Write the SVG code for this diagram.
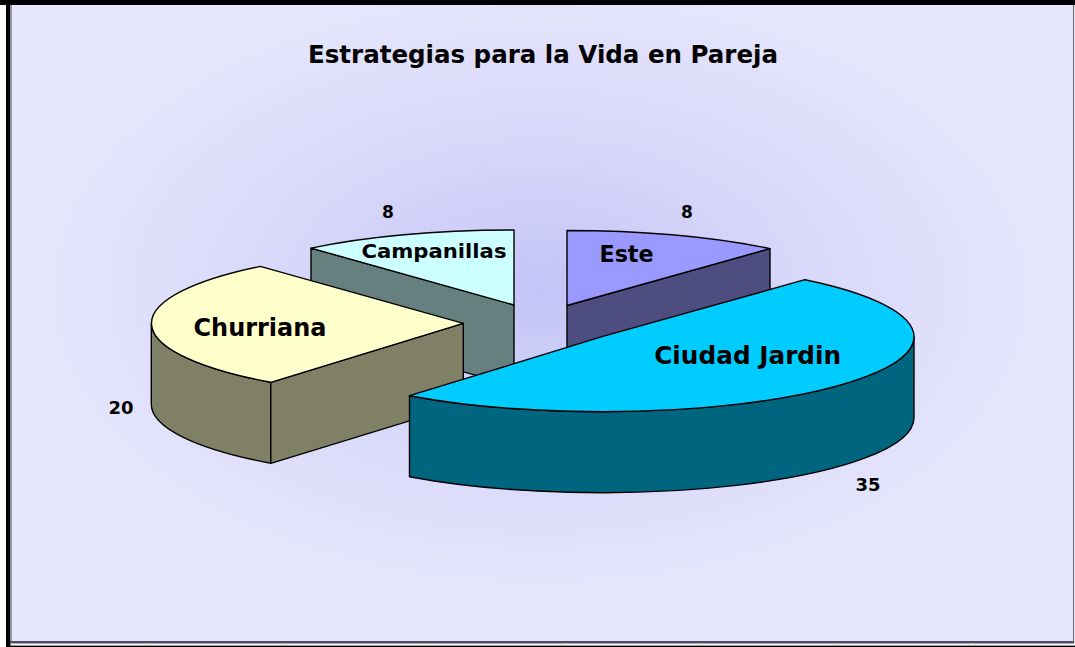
<svg xmlns="http://www.w3.org/2000/svg" width="1075" height="647" viewBox="0 0 1075 647">
<style>
.edge{stroke:#000;stroke-width:1.4;stroke-linejoin:round}
.lbl{font-family:"DejaVu Sans","Liberation Sans",sans-serif;font-weight:bold;fill:#000;text-anchor:middle}
.tick{stroke:#c8c8c8;stroke-width:1}
</style>
<defs>
<radialGradient id="bg" gradientUnits="userSpaceOnUse" cx="540" cy="290" r="520" gradientTransform="translate(540 290) scale(1 0.6) translate(-540 -290)">
<stop offset="0" stop-color="#c4c4f6"/>
<stop offset="0.45" stop-color="#d6d6fa"/>
<stop offset="1" stop-color="#e6e6fc"/>
</radialGradient>
</defs>
<rect x="0" y="0" width="1075" height="647" fill="#ffffff"/>
<rect x="11" y="5" width="1062" height="636" fill="url(#bg)"/>
<rect x="0" y="0" width="1075" height="5" fill="#000"/>
<rect x="6" y="0" width="4.5" height="647" fill="#000"/>
<rect x="10.5" y="5" width="1.5" height="637" fill="#9a9aaa"/>
<rect x="1073" y="5" width="1.2" height="638" fill="#6e6e80"/>
<rect x="10" y="641" width="1064" height="2.5" fill="#505060"/>
<rect x="6" y="645.6" width="1069" height="1.4" fill="#000"/>
<g id="grid-ticks">
<line class="tick" x1="149" y1="643.5" x2="149" y2="645.6"/>
<line class="tick" x1="286.5" y1="643.5" x2="286.5" y2="645.6"/>
<line class="tick" x1="424" y1="643.5" x2="424" y2="645.6"/>
<line class="tick" x1="562" y1="643.5" x2="562" y2="645.6"/>
<line class="tick" x1="700" y1="643.5" x2="700" y2="645.6"/>
<line class="tick" x1="837.5" y1="643.5" x2="837.5" y2="645.6"/>
<line class="tick" x1="975" y1="643.5" x2="975" y2="645.6"/>
</g>
<text id="title" x="543" y="63" class="lbl" font-size="24" textLength="470" lengthAdjust="spacingAndGlyphs">Estrategias para la Vida en Pareja</text>
<g id="connectors"></g>
<g id="slice-campanillas">
<path class="edge" fill="#668080" d="M311,248.1 L514,305 L514,386 L311,329.1 Z"/>
<path class="edge" fill="#ccffff" d="M514,305 L311,248.1 A312,75 0 0 1 514,230 Z"/>
</g>
<g id="slice-este">
<path class="edge" fill="#4d4d80" d="M567,305.5 L770,248.6 L770,329.6 L567,386.5 Z"/>
<path class="edge" fill="#9999ff" d="M567,305.5 L567,230.5 A312,75 0 0 1 770,248.6 Z"/>
</g>
<g id="slice-churriana">
<path class="edge" fill="#808066" d="M270.8,382.3 A312,75 0 0 1 151.3,323.3 L151.3,404.3 A312,75 0 0 0 270.8,463.3 Z"/>
<path class="edge" fill="#808066" d="M463.3,323.3 L270.8,382.3 L270.8,463.3 L463.3,404.3 Z"/>
<path class="edge" fill="#ffffcc" d="M463.3,323.3 L270.8,382.3 A312,75 0 0 1 260.3,266.4 Z"/>
</g>
<g id="slice-ciudad-jardin">
<path class="edge" fill="#00657f" d="M914,336.7 A312,75 0 0 1 409.5,395.7 L409.5,476.7 A312,75 0 0 0 914,417.7 Z"/>
<path class="edge" fill="#00ccff" d="M602,336.7 L804.9,279.7 A312,75 0 0 1 914,336.7 A312,75 0 0 1 409.5,395.7 Z"/>
</g>
<g id="labels">
<text class="lbl" x="388" y="218" font-size="17">8</text>
<text class="lbl" x="687" y="218" font-size="17">8</text>
<text class="lbl" x="434" y="258" font-size="20" textLength="145" lengthAdjust="spacingAndGlyphs">Campanillas</text>
<text class="lbl" x="626.5" y="261.5" font-size="23" textLength="54" lengthAdjust="spacingAndGlyphs">Este</text>
<text class="lbl" x="260" y="336" font-size="24" textLength="133" lengthAdjust="spacingAndGlyphs">Churriana</text>
<text class="lbl" x="747.7" y="364" font-size="24" textLength="187" lengthAdjust="spacingAndGlyphs">Ciudad Jardin</text>
<text class="lbl" x="121" y="414" font-size="18">20</text>
<text class="lbl" x="868" y="490.5" font-size="18">35</text>
</g>
</svg>
